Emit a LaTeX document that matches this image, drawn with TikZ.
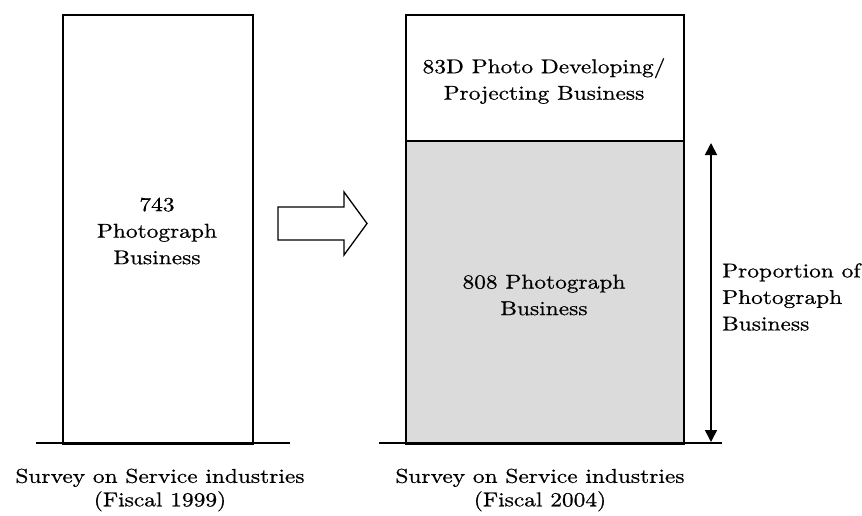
\documentclass[tikz,border=0pt]{standalone}
\usepackage{fontspec}
\setmainfont{lmroman10-regular}[Extension=.otf, FakeStretch=1.17, FakeBold=0.7]
\usetikzlibrary{arrows.meta}
\begin{document}
\begin{tikzpicture}[x=1pt,y=-1pt,
  txt/.style={font=\fontsize{20}{26.5}\selectfont, align=center, inner sep=0pt},
  bar/.style={draw=black, line width=1.7pt, rectangle, inner sep=0pt, anchor=north west},
  base/.style={line width=1.7pt}]
\useasboundingbox (0,0) rectangle (862,515);
% left bar
\node[bar, minimum width=190pt, minimum height=429pt] (lb) at (62,14) {};
\node[txt] (lt) at (157,231) {743\\Photograph\\Business};
\draw[base] (36,443) coordinate (l0) -- (290,443) coordinate (l1);
% right bars
\node[bar, fill=black!14, minimum width=278pt, minimum height=303pt] (rb) at (405,140) {};
\node[bar, minimum width=278pt, minimum height=126pt] (rt) at (405,14) {};
\node[txt] (rtt) at (544,81) {83D Photo Developing/\\Projecting Business};
\node[txt] (rbt) at (544,295) {808 Photograph\\Business};
\draw[base] (379,443) coordinate (r0) -- (722,443) coordinate (r1);
% big arrow
\draw[line width=1.3pt, line join=miter] (278,207) -- (344,207) -- (344,192) -- (367,223.5) -- (344,255) -- (344,240) -- (278,240) -- cycle;
% double arrow
\coordinate (pa) at (711,143);
\coordinate (pb) at (711,442);
\draw[line width=1.6pt, {Triangle[width=12pt,length=12pt]}-{Triangle[width=12pt,length=12pt]}] (pa) -- (pb);
\node[txt, align=left, anchor=west] (pt) at (722,297) {Proportion of\\Photograph\\Business};
% captions
\node[txt, font=\fontsize{20}{23.5}\selectfont] (c1) at (160,490) {Survey on Service industries\\(Fiscal 1999)};
\node[txt, font=\fontsize{20}{23.5}\selectfont] (c2) at (540,490) {Survey on Service industries\\(Fiscal 2004)};
\end{tikzpicture}
\end{document}
